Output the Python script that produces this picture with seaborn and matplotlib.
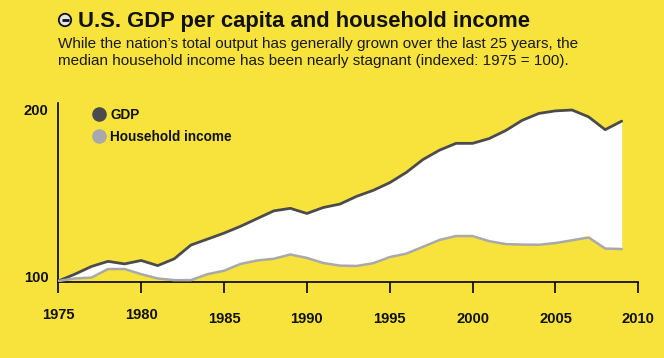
import matplotlib
matplotlib.use("Agg")
import matplotlib.pyplot as plt
import pandas as pd
import seaborn as sns
from matplotlib.lines import Line2D
from matplotlib.patches import Circle

# --- data (indexed: 1975 = 100) ---
years = list(range(1975, 2010))
gdp = [100, 104, 108.5, 111.5, 110, 112, 109, 113, 121, 124.5,
       128, 132, 136.5, 141, 142.5, 139.5, 143, 145, 149.5, 153,
       157.5, 163.5, 171, 176.5, 180.5, 180.5, 183.3, 188, 194, 198,
       199.5, 200, 196, 188.5, 193.5]
household = [100, 101.5, 102, 107, 107, 104, 101.5, 100.5, 100.5, 104,
             106, 110, 112, 113, 115.5, 113.5, 110.5, 109, 108.8, 110.4,
             114, 116, 120, 124, 126.3, 126.3, 123.3, 121.6, 121.3, 121.2,
             122.2, 123.8, 125.5, 119, 118.7]
series_names = ["GDP", "Household income"]
x_ticks = [1975, 1980, 1985, 1990, 1995, 2000, 2005, 2010]
y_ticks = [100, 200]

title = "U.S. GDP per capita and household income"
subtitle = [
    "While the nation\u2019s total output has generally grown over the last 25 years, the",
    "median household income has been nearly stagnant (indexed: 1975 = 100).",
]

YELLOW = "#F8E33C"
colors = {"GDP": "#4b4b4d", "Household income": "#a9a9ab"}

df = pd.DataFrame({
    "year": years * 2,
    "value": gdp + household,
    "series": [series_names[0]] * len(years) + [series_names[1]] * len(years),
})

sns.set_theme(style="white")
plt.rcParams["font.family"] = ["Liberation Sans", "DejaVu Sans"]
narrow = ["Liberation Sans Narrow", "Liberation Sans", "DejaVu Sans"]

W, H = 664, 358
fig = plt.figure(figsize=(W / 100, H / 100), dpi=100, facecolor=YELLOW)
ax = fig.add_axes([58.3 / W, 1 - 282 / H, 580 / W, 179 / H])
ax.set_facecolor(YELLOW)

# white band between the two series
ax.fill_between(years, household, gdp, color="white", lw=0, zorder=1)
sns.lineplot(data=df, x="year", y="value", hue="series", palette=colors,
             legend=False, ax=ax, zorder=3, solid_capstyle="round")
for line, lw in zip(ax.lines, [2.0, 1.8]):
    line.set_linewidth(lw)

ax.set_xlim(1975, 2010)
ax.set_ylim(99.42, 204.1)
ax.set_xlabel("")
ax.set_ylabel("")
sns.despine(ax=ax)
for side in ["left", "bottom"]:
    ax.spines[side].set_color("black")
    ax.spines[side].set_linewidth(1.2)

ax.set_xticks(x_ticks)
ax.set_xticklabels([])
ax.set_yticks([])
ax.tick_params(axis="x", bottom=True, direction="out", length=8, width=1.2,
               color="black")

# year labels: first two sit a little higher, as in the reference
for yr in x_ticks:
    dy = -37 if yr < 1985 else -41
    ax.annotate(str(yr), xy=(yr, 0), xycoords=ax.get_xaxis_transform(),
                xytext=(0, dy), textcoords="offset pixels", ha="center",
                va="baseline", fontsize=10.6, fontweight="bold",
                family=narrow, color="#111111")

for v, dy in zip(y_ticks, [-1, -5]):
    ax.annotate(str(v), xy=(0, v), xycoords=ax.get_yaxis_transform(),
                xytext=(-10, dy), textcoords="offset pixels", ha="right",
                va="baseline", fontsize=10.6, fontweight="bold",
                family=narrow, color="#111111")

handles = [Line2D([], [], ls="", marker="o", ms=9.5, color=colors[s])
           for s in series_names]
leg = ax.legend(handles, series_names, loc="upper left",
                bbox_to_anchor=(85.2 / W, 1 - 101 / H),
                bbox_transform=fig.transFigure, frameon=False, borderpad=0,
                handlelength=1.0, handletextpad=0.35, labelspacing=0.62,
                prop={"weight": "bold", "size": 9.8})
for t in leg.get_texts():
    t.set_color("#111111")

# title block
icon = Circle((0.65, (H - 20) / 100), 0.062, transform=fig.dpi_scale_trans,
              facecolor="#e6e6e6", edgecolor="#111111", lw=1.3)
fig.patches.append(icon)
fig.lines.append(Line2D([0.615, 0.685], [(H - 20) / 100] * 2,
                        transform=fig.dpi_scale_trans, color="#111111",
                        lw=2.0, solid_capstyle="butt"))
fig.text(77.7 / W, 1 - 26.7 / H, title, fontsize=15.8, fontweight="bold",
         color="#111111", va="baseline", ha="left")
fig.text(58.3 / W, 1 - 48.3 / H, subtitle[0], fontsize=10.95,
         color="#1a1a1a", va="baseline", ha="left")
fig.text(58.3 / W, 1 - 65 / H, subtitle[1], fontsize=10.95,
         color="#1a1a1a", va="baseline", ha="left")

fig.savefig("out.png", dpi=100, facecolor=YELLOW)
